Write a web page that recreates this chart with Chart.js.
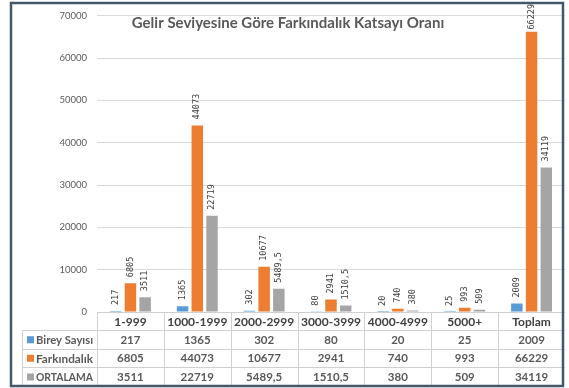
<!DOCTYPE html>
<html>
<head>
<meta charset="utf-8">
<script src="https://cdn.jsdelivr.net/npm/chart.js@4.4.1/dist/chart.umd.min.js"></script>
<style>
  html, body { margin: 0; padding: 0; background: #fff; }
  #wrap { position: relative; width: 569px; height: 388px; }
</style>
</head>
<body>
<div id="wrap"><canvas id="chart" width="569" height="388"></canvas></div>
<script>
const categories = ["1-999", "1000-1999", "2000-2999", "3000-3999", "4000-4999", "5000+", "Toplam"];
const bireySayisi = [217, 1365, 302, 80, 20, 25, 2009];
const farkindalik = [6805, 44073, 10677, 2941, 740, 993, 66229];
const ortalama = [3511, 22719, 5489.5, 1510.5, 380, 509, 34119];
const seriesNames = ["Birey Sayısı", "Farkındalık", "ORTALAMA"];
const seriesColors = ["#5b9bd5", "#ed7d31", "#a5a5a5"];
const chartTitle = "Gelir Seviyesine Göre Farkındalık Katsayı Oranı";

// Turkish decimal comma
const fmt = (v) => String(v).replace(".", ",");

const barLabels = {
  id: "barLabels",
  afterDatasetsDraw(chart) {
    const ctx = chart.ctx;
    ctx.save();
    ctx.font = "8.5px 'DejaVu Sans Mono'";
    ctx.fillStyle = "#404040";
    ctx.textAlign = "left";
    ctx.textBaseline = "middle";
    chart.data.datasets.forEach((ds, i) => {
      chart.getDatasetMeta(i).data.forEach((bar, j) => {
        const text = fmt(ds.data[j]);
        const w = ctx.measureText(text).width;
        const start = Math.max(bar.y - 6, 4 + w);
        ctx.save();
        ctx.translate(bar.x, start);
        ctx.rotate(-Math.PI / 2);
        ctx.fillText(text, 0, 0);
        ctx.restore();
      });
    });
    ctx.restore();
  }
};

const dataTable = {
  id: "dataTable",
  afterDraw(chart) {
    const { ctx, chartArea, scales } = chart;
    const x = scales.x;
    const half = (chartArea.right - chartArea.left) / categories.length / 2;
    const rows = [chartArea.bottom, 330, 348.5, 367, 386];
    const keyLeft = 22;

    ctx.save();
    ctx.strokeStyle = "#d0d0d0";
    ctx.lineWidth = 1;
    ctx.beginPath();
    rows.slice(0, 4).forEach((y, r) => {
      const y0 = Math.round(y) + 0.5;
      ctx.moveTo(r === 0 ? chartArea.left : keyLeft, y0);
      ctx.lineTo(chartArea.right, y0);
    });
    categories.forEach((c, i) => {
      const xl = Math.round(x.getPixelForValue(i) - half) + 0.5;
      ctx.moveTo(xl, rows[0]);
      ctx.lineTo(xl, rows[4]);
    });
    ctx.moveTo(keyLeft + 0.5, rows[1]);
    ctx.lineTo(keyLeft + 0.5, rows[4]);
    ctx.stroke();

    ctx.textAlign = "center";
    ctx.textBaseline = "middle";
    ctx.font = "bold 12px Lato";
    ctx.fillStyle = "#404040";
    categories.forEach((c, i) => {
      ctx.fillText(c, x.getPixelForValue(i), (rows[0] + rows[1]) / 2 + 1);
    });

    const series = [bireySayisi, farkindalik, ortalama];
    series.forEach((vals, r) => {
      const yc = (rows[r + 1] + rows[r + 2]) / 2 + 1;
      ctx.fillStyle = "#595959";
      ctx.font = "bold 11.5px Lato";
      ctx.textAlign = "center";
      vals.forEach((v, i) => ctx.fillText(fmt(v), x.getPixelForValue(i), yc));
      ctx.fillStyle = seriesColors[r];
      ctx.fillRect(27, yc - 4, 7, 7);
      ctx.fillStyle = "#595959";
      ctx.font = "bold 12px Lato";
      ctx.textAlign = "left";
      ctx.fillText(seriesNames[r], 36, yc, 57);
    });

    ctx.textAlign = "center";
    ctx.font = "bold 15px Lato";
    ctx.fillStyle = "#595959";
    ctx.fillText(chartTitle, 288, 23);

    ctx.strokeStyle = "#44576b";
    ctx.lineWidth = 2.5;
    ctx.strokeRect(11, 3, 552, 383);
    ctx.restore();
  }
};

new Chart(document.getElementById("chart"), {
  type: "bar",
  data: {
    labels: categories,
    datasets: [
      { label: seriesNames[0], data: bireySayisi, backgroundColor: seriesColors[0] },
      { label: seriesNames[1], data: farkindalik, backgroundColor: seriesColors[1] },
      { label: seriesNames[2], data: ortalama, backgroundColor: seriesColors[2] }
    ]
  },
  options: {
    responsive: false,
    animation: false,
    categoryPercentage: 0.66,
    barPercentage: 0.78,
    layout: { padding: { left: 0, right: 4, top: 10, bottom: 76 } },
    plugins: {
      legend: { display: false },
      tooltip: { enabled: false }
    },
    scales: {
      x: { display: false },
      y: {
        min: 0,
        max: 70000,
        border: { display: false },
        grid: { color: "#d9d9d9", drawTicks: false },
        ticks: {
          stepSize: 10000,
          padding: 10,
          color: "#595959",
          font: { family: "Lato", size: 9.5 },
          callback: (v) => String(v)
        },
        afterFit(scale) {
          scale.width = 97;
        }
      }
    }
  },
  plugins: [barLabels, dataTable]
});
</script>
</body>
</html>
